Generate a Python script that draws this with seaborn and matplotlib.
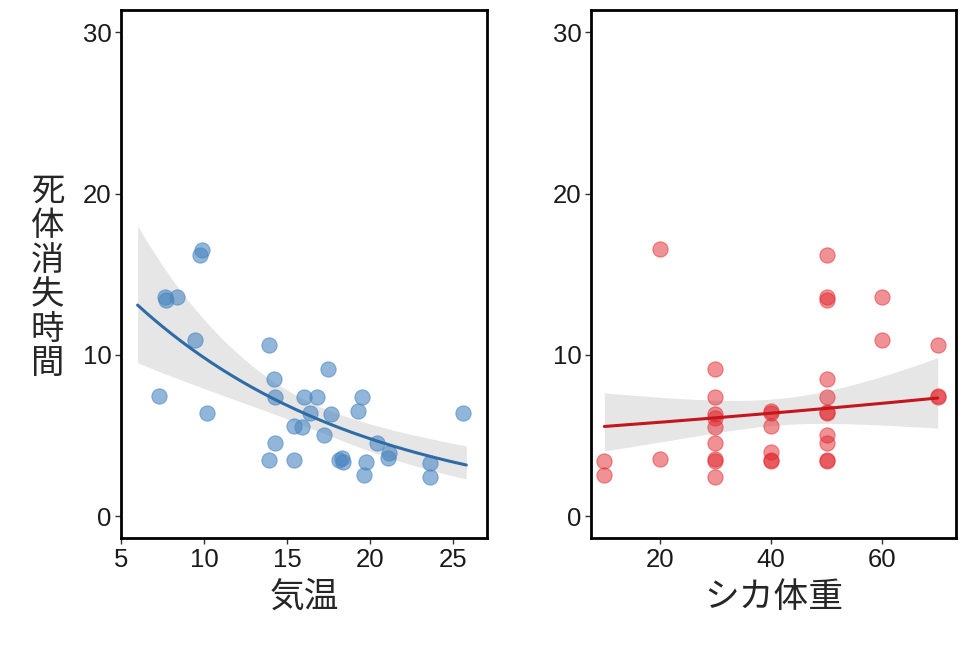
import numpy as np
import pandas as pd
import matplotlib
matplotlib.use("Agg")
import matplotlib.pyplot as plt
import seaborn as sns

# ---------------- data ----------------
temp = [7.3, 7.65, 7.7, 8.35, 9.46, 9.76, 9.86, 10.16,
        13.9, 13.9, 14.2, 14.3, 14.3, 15.45, 15.45, 15.9, 16.0, 16.4, 16.8,
        17.2, 17.5, 17.65, 18.15, 18.3, 18.4, 19.25, 19.5, 19.75, 19.66, 20.4,
        21.16, 21.1, 23.6, 23.6, 25.6]
time_t = [7.44, 13.56, 13.4, 13.56, 10.9, 16.2, 16.5, 6.4,
          10.6, 3.47, 8.5, 7.4, 4.5, 5.58, 3.47, 5.5, 7.4, 6.4, 7.4,
          5.0, 9.1, 6.3, 3.5, 3.6, 3.37, 6.53, 7.4, 3.37, 2.54, 4.55,
          3.93, 3.58, 3.27, 2.4, 6.37]

weight = [10, 10, 20, 20,
          30, 30, 30, 30, 30, 30, 30, 30, 30,
          40, 40, 40, 40, 40, 40,
          50, 50, 50, 50, 50, 50, 50, 50, 50, 50, 50,
          60, 60, 70, 70, 70]
time_w = [3.4, 2.54, 16.55, 3.55,
          9.1, 7.4, 6.3, 6.1, 5.54, 4.55, 3.55, 3.4, 2.4,
          6.5, 6.4, 5.6, 3.98, 3.47, 3.4,
          16.2, 13.6, 13.4, 8.5, 7.4, 6.47, 6.4, 5.0, 4.5, 3.47, 3.4,
          13.6, 10.9, 10.6, 7.44, 7.4]

y_ticks = [0, 10, 20, 30]
x1_ticks = [5, 10, 15, 20, 25]
x2_ticks = [20, 40, 60]
pred_range = (6.0, 25.8)

ylabel = "死体消失時間"
xlabel1 = "気温"
xlabel2 = "シカ体重"

df_t = pd.DataFrame({"temp": temp, "time": time_t})
df_w = pd.DataFrame({"weight": weight, "time": time_w})

# pair observations across panels by rank of the response (same animals)
ot = np.argsort(-np.asarray(time_t), kind="stable")
ow = np.argsort(-np.asarray(time_w), kind="stable")
joint = pd.DataFrame({"temp": np.asarray(temp)[ot], "weight": np.asarray(weight)[ow],
                      "time": (np.asarray(time_t)[ot] + np.asarray(time_w)[ow]) / 2})


def gamma_glm(X, y):
    """Gamma GLM with log link (IRLS; weights are 1 for this family/link)."""
    beta = np.linalg.lstsq(X, np.log(y), rcond=None)[0]
    for _ in range(80):
        mu = np.exp(X @ beta)
        z = X @ beta + (y - mu) / mu
        beta = np.linalg.lstsq(X, z, rcond=None)[0]
    mu = np.exp(X @ beta)
    phi = np.sum(((y - mu) / mu) ** 2) / (len(y) - X.shape[1])
    return beta, phi * np.linalg.inv(X.T @ X)


Xj = np.column_stack([np.ones(len(joint)), joint["temp"], joint["weight"]])
beta, cov = gamma_glm(Xj, joint["time"].to_numpy())


def effect(grid, col):
    G = np.column_stack([np.ones_like(grid),
                         grid if col == 1 else np.full_like(grid, joint["temp"].mean()),
                         grid if col == 2 else np.full_like(grid, joint["weight"].mean())])
    eta = G @ beta
    se = np.sqrt(np.einsum("ij,jk,ik->i", G, cov, G))
    return np.exp(eta), np.exp(eta - 1.96 * se), np.exp(eta + 1.96 * se)


xg = np.linspace(pred_range[0], pred_range[1], 200)
f, lo, hi = effect(xg, 1)
fit_t = pd.DataFrame({"x": xg, "fit": f, "lo": lo, "hi": hi})
wg = np.linspace(min(weight), max(weight), 200)
f, lo, hi = effect(wg, 2)
fit_w = pd.DataFrame({"x": wg, "fit": f, "lo": lo, "hi": hi})

# ---------------- plotting ----------------
sns.set_theme(style="white")
plt.rcParams["font.family"] = ["Liberation Sans", "Noto Sans CJK JP", "DejaVu Sans"]
cjk = ["Noto Sans CJK JP", "DejaVu Sans"]

fig = plt.figure(figsize=(9.64, 6.45), dpi=100)
ax1 = fig.add_axes([0.1255, 0.166, 0.3797, 0.8186])
ax2 = fig.add_axes([0.6131, 0.166, 0.3786, 0.8186])

blue = "#4a86c0"
blue_line = "#2f6ca6"
red = "#e2262c"
red_line = "#c4161c"
band = "#e6e6e6"

for ax, df, xcol, fit, col, lcol, a in ((ax1, df_t, "temp", fit_t, blue, blue_line, 0.6),
                                         (ax2, df_w, "weight", fit_w, red, red_line, 0.5)):
    ax.fill_between(fit["x"], fit["lo"], fit["hi"], color=band, lw=0, zorder=1)
    sns.scatterplot(data=df, x=xcol, y="time", ax=ax, s=120, color=col, alpha=a,
                    edgecolor=col, linewidth=0.8, zorder=3)
    sns.lineplot(data=fit, x="x", y="fit", ax=ax, color=lcol, lw=2.2, zorder=4)

ax1.set_xlim(5, 27.05)
ax2.set_xlim(7.6, 73.3)
for ax, xt in ((ax1, x1_ticks), (ax2, x2_ticks)):
    ax.set_ylim(-1.36, 31.4)
    ax.set_yticks(y_ticks)
    ax.set_xticks(xt)
    ax.tick_params(axis="both", direction="out", length=4, width=1, color="#333333",
                   labelsize=18.5, labelcolor="#1a1a1a", pad=3, bottom=True, left=True)
    for sp in ax.spines.values():
        sp.set_visible(True)
        sp.set_color("black")
        sp.set_linewidth(2)
    ax.set_ylabel("")
    ax.grid(False)

ax1.set_xlabel(xlabel1, fontsize=25, family=cjk, labelpad=6)
ax2.set_xlabel(xlabel2, fontsize=25, family=cjk, labelpad=6)

fig.text(0.049, 0.57, "\n".join(ylabel), fontsize=24, ha="center", va="center",
         family=cjk, linespacing=0.98)

fig.savefig("out.png", dpi=100)
